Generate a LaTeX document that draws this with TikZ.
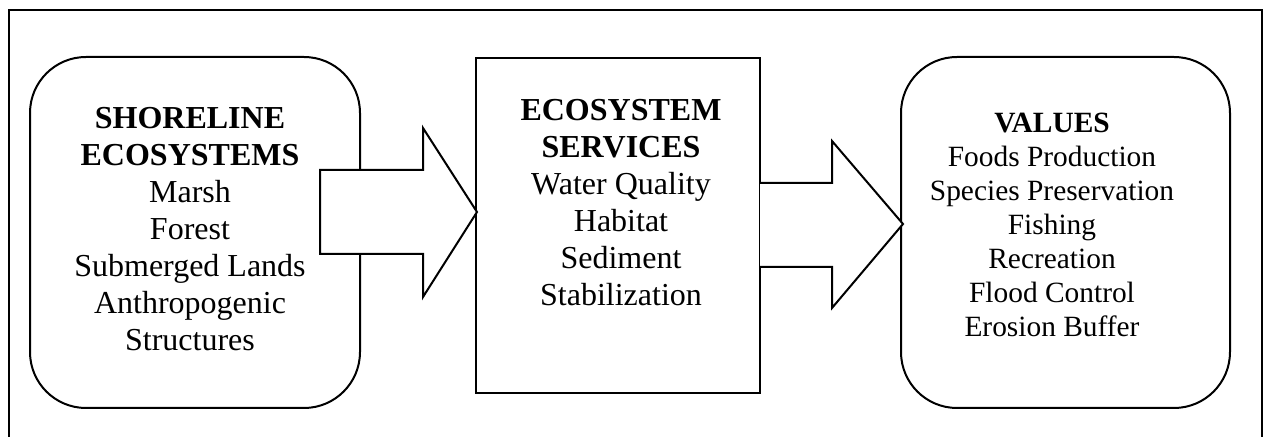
\documentclass[tikz,border=0pt]{standalone}
\usepackage{fontspec}
\setmainfont{Liberation Serif}
\begin{document}
\begin{tikzpicture}[x=0.5pt, y=-0.5pt, line width=1pt,
    roundbox/.style={draw, rounded corners=28pt, minimum width=165pt, minimum height=175.5pt, inner sep=0pt},
    sqbox/.style={draw, minimum width=142pt, minimum height=167.5pt, inner sep=0pt},
    bigtxt/.style={align=center, inner sep=0pt, font=\fontsize{16}{18.5}\selectfont},
    smalltxt/.style={align=center, inner sep=0pt, font=\fontsize{14.7}{17}\selectfont},
    blockarrow/.style={fill=white, line join=miter}]
    \useasboundingbox (0,0) rectangle (1270,437);
    % outer frame, open at the bottom
    \draw (9,437) -- (9,10) -- (1262,10) -- (1262,437);
    % boxes
    \node[roundbox] (shore) at (195,232.5) {};
    \node[sqbox] (services) at (618,225.5) {};
    \node[roundbox, minimum width=164.5pt] (values) at (1065.5,232.5) {};
    \node[bigtxt] (shoretxt) at (190,229) {\textbf{SHORELINE}\\\textbf{ECOSYSTEMS}\\Marsh\\Forest\\Submerged Lands\\Anthropogenic\\Structures};
    \node[bigtxt] (servicestxt) at (621,202.5) {\textbf{ECOSYSTEM}\\\textbf{SERVICES}\\Water Quality\\Habitat\\Sediment\\Stabilization};
    \node[smalltxt] (valuestxt) at (1052,225) {\textbf{VALUES}\\Foods Production\\Species Preservation\\Fishing\\Recreation\\Flood Control\\Erosion Buffer};
    % block arrows
    \draw[blockarrow] (320,170) -- (423,170) -- (423,128) -- (477,212) -- (423,297) -- (423,254) -- (320,254) -- cycle;
    \fill[white] (760,183) -- (832,183) -- (832,141) -- (903,224) -- (832,308) -- (832,267) -- (760,267) -- cycle;
    \draw[line join=miter] (760,183) -- (832,183) -- (832,141) -- (903,224) -- (832,308) -- (832,267) -- (760,267);
\end{tikzpicture}
\end{document}
